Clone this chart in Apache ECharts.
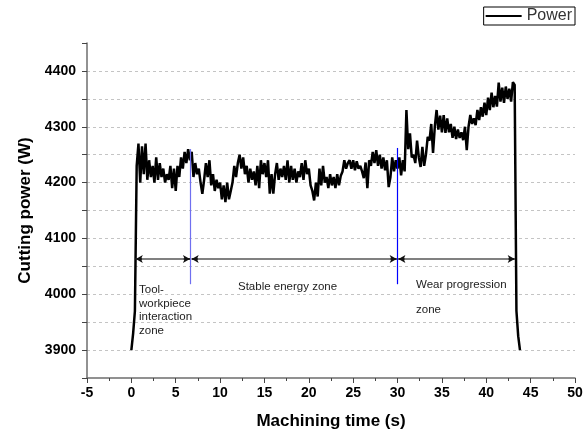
<!DOCTYPE html>
<html>
<head>
<meta charset="utf-8">
<script src="https://cdn.jsdelivr.net/npm/echarts@6/dist/echarts.min.js"></script>
<style>
  html, body { margin: 0; padding: 0; background: #fff; }
  #main { width: 587px; height: 435px; }
</style>
</head>
<body>
<div id="main"></div>
<script>
var chart = echarts.init(document.getElementById('main'));

// sampled every 0.2 s, starting at t = 0
var dt = 0.2;
var power = [
    3900, 3930, 3970, 4230, 4270, 4200, 4265, 4215, 4270, 4205,
    4240, 4210, 4230, 4200, 4245, 4205, 4235, 4210, 4225, 4200,
    4215, 4205, 4230, 4190, 4225, 4185, 4230, 4210, 4245, 4225,
    4255, 4235, 4260, 4240, 4255, 4210, 4235, 4215, 4225, 4200,
    4180, 4205, 4235, 4210, 4240, 4195, 4215, 4185, 4205, 4190,
    4200, 4170, 4195, 4165, 4200, 4170, 4185, 4200, 4230, 4210,
    4235, 4250, 4225, 4245, 4215, 4230, 4200, 4225, 4205, 4220,
    4195, 4230, 4190, 4240, 4215, 4235, 4210, 4240, 4180, 4215,
    4180, 4215, 4235, 4205, 4225, 4210, 4230, 4205, 4240, 4200,
    4230, 4205, 4225, 4200, 4220, 4210, 4235, 4205, 4240, 4215,
    4225, 4195, 4185, 4168, 4200, 4175, 4225, 4195, 4230, 4200,
    4210, 4190, 4215, 4195, 4210, 4190, 4215, 4195, 4212, 4220,
    4240, 4225, 4235, 4240, 4225, 4240, 4222, 4238, 4225, 4230,
    4220, 4208, 4236, 4190, 4240, 4230, 4255, 4235, 4258, 4230,
    4250, 4225, 4245, 4222, 4240, 4192, 4210, 4245, 4220, 4240,
    4225, 4245, 4213, 4240, 4220, 4330, 4260, 4288, 4245, 4250,
    4235, 4275, 4245, 4228, 4264, 4230, 4250, 4282, 4275, 4305,
    4253, 4300, 4330, 4295, 4320, 4290, 4321, 4289, 4315, 4290,
    4305, 4280, 4300, 4278, 4295, 4280, 4290, 4276, 4300, 4258,
    4300, 4321, 4305, 4315, 4303, 4330, 4312, 4335, 4318, 4343,
    4321, 4352, 4330, 4361, 4335, 4355, 4336, 4379, 4345, 4370,
    4343, 4372, 4350, 4368, 4345, 4380, 4375, 3970, 3925, 3900
];

// zone annotation
var zoneStart = [0.5, 6.8, 30.1];
var zoneEnd = [6.6, 29.9, 43.2];
var arrowLevel = 4063;
var headLen = 0.7;
var dividerT = [6.65, 30.0];
var dividerTop = [4260, 4262];
var dividerBottom = 4018;
var dividerColor = ['#6f6ff0', '#0000ff'];

var seriesData = power.map(function (v, i) {
    return [Math.round(i * dt * 10) / 10, v];
});

// gray shafts
var shafts = zoneStart.map(function (s, i) {
    return [
        { coord: [s, arrowLevel] },
        { coord: [zoneEnd[i], arrowLevel] }
    ];
});
// black heads at both ends of each arrow
var heads = [];
zoneStart.forEach(function (s, i) {
    heads.push([{ coord: [s + headLen, arrowLevel], symbol: 'none' },
                { coord: [s, arrowLevel], symbol: 'arrow' }]);
    heads.push([{ coord: [zoneEnd[i] - headLen, arrowLevel], symbol: 'none' },
                { coord: [zoneEnd[i], arrowLevel], symbol: 'arrow' }]);
});
var dividerLines = dividerT.map(function (t, i) {
    return [
        { coord: [t, dividerBottom], lineStyle: { color: dividerColor[i], width: 1.2, type: 'solid' } },
        { coord: [t, dividerTop[i]] }
    ];
});

// split line colours: hide the ones on the bottom axis and at the very top
var gridColors = [];
for (var k = 0; k < 13; k++) {
    gridColors.push(k === 0 || k === 12 ? 'rgba(0,0,0,0)' : '#c4c4c4');
}

var font = 'Liberation Sans, Arial, sans-serif';

var option = {
    animation: false,
    grid: { left: 87, right: 12, top: 43, bottom: 56, containLabel: false },
    legend: {
        right: 12,
        top: 7,
        data: [{ name: 'Power', icon: 'rect' }],
        itemWidth: 36,
        itemHeight: 2,
        itemGap: 0,
        padding: [1, 3, 1, 2],
        borderColor: '#000',
        borderWidth: 1,
        borderRadius: 0,
        textStyle: { fontFamily: font, fontSize: 16, color: '#333', padding: [0, 0, 0, 0] }
    },
    xAxis: {
        type: 'value',
        min: -5,
        max: 50,
        interval: 5,
        name: 'Machining time (s)',
        nameLocation: 'middle',
        nameGap: 35,
        nameTextStyle: { fontFamily: font, fontSize: 17, fontWeight: 'bold', color: '#000' },
        axisLine: { show: true, onZero: false, lineStyle: { color: '#6e6e6e', width: 1.5 } },
        axisTick: { show: true, length: 5, lineStyle: { color: '#444', width: 1 } },
        minorTick: { show: true, splitNumber: 2, length: 3, lineStyle: { color: '#444' } },
        axisLabel: { fontFamily: font, fontSize: 14, fontWeight: 'bold', color: '#000', margin: 8 },
        splitLine: { show: false }
    },
    yAxis: {
        type: 'value',
        min: 3850,
        max: 4450,
        interval: 50,
        name: 'Cutting power (W)',
        nameLocation: 'middle',
        nameGap: 52,
        nameTextStyle: { fontFamily: font, fontSize: 17, fontWeight: 'bold', color: '#000' },
        axisLine: { show: true, onZero: false, lineStyle: { color: '#6e6e6e', width: 1.5 } },
        axisTick: { show: true, length: 5, lineStyle: { color: '#444', width: 1 } },
        axisLabel: {
            fontFamily: font, fontSize: 14, fontWeight: 'bold', color: '#000', margin: 11,
            formatter: function (v) { return v % 100 === 0 ? String(v) : ''; }
        },
        splitLine: { show: true, lineStyle: { color: gridColors, type: [3, 3], width: 1 } }
    },
    series: [{
        name: 'Power',
        type: 'line',
        data: seriesData,
        showSymbol: false,
        symbol: 'none',
        color: '#000',
        lineStyle: { color: '#000', width: 2.5 },
        z: 3,
        markLine: {
            silent: true,
            symbol: ['none', 'none'],
            label: { show: false },
            lineStyle: { color: '#808080', width: 2, type: 'solid' },
            data: shafts.concat(dividerLines)
        }
    }, {
        // arrow heads of the zone markers
        name: 'heads',
        type: 'line',
        data: [],
        silent: true,
        z: 4,
        markLine: {
            silent: true,
            symbolSize: [6, 7],
            label: { show: false },
            lineStyle: { color: '#111', width: 1.5, type: 'solid' },
            data: heads
        }
    }],
    graphic: [
        {
            type: 'text', left: 139, top: 283,
            style: {
                text: 'Tool-\nworkpiece\ninteraction\nzone',
                font: '11.5px ' + font, fill: '#222', lineHeight: 13.7
            }
        },
        {
            type: 'text', left: 238, top: 281,
            style: { text: 'Stable energy zone', font: '11.5px ' + font, fill: '#222' }
        },
        {
            type: 'text', left: 416, top: 279,
            style: { text: 'Wear progression', font: '11.5px ' + font, fill: '#222' }
        },
        {
            type: 'text', left: 416, top: 304,
            style: { text: 'zone', font: '11.5px ' + font, fill: '#222' }
        }
    ]
};
chart.setOption(option);
</script>
</body>
</html>
